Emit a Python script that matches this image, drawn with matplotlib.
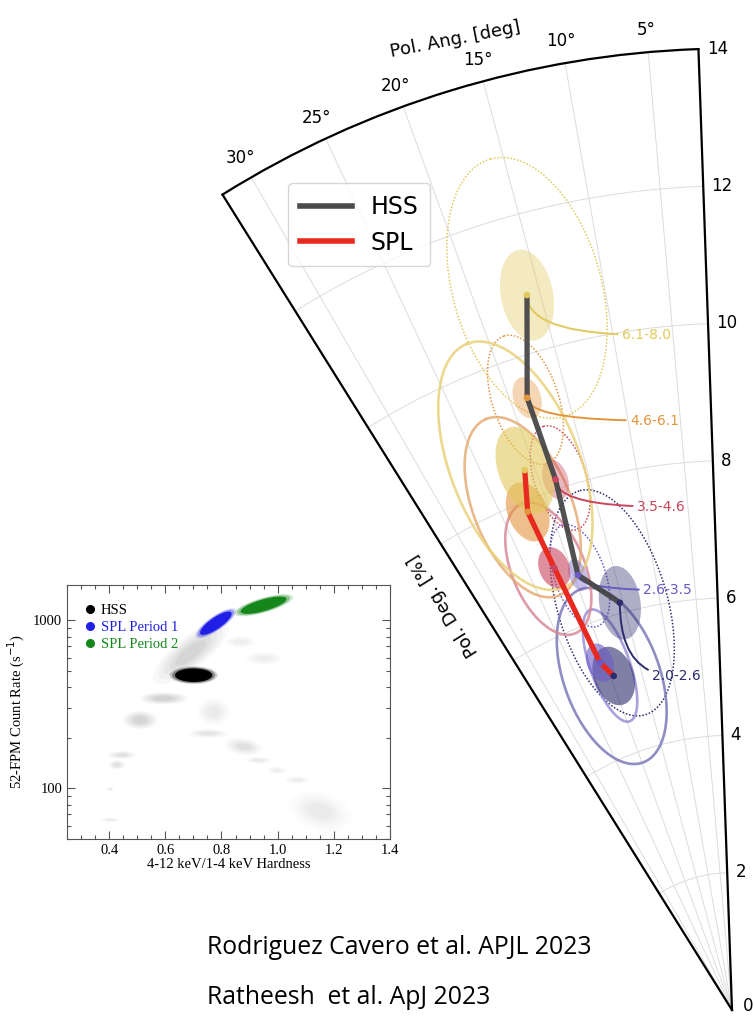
"""Polarization track (PD vs PA per energy bin) in the HSS and SPL states,
with the hardness-intensity diagram of the outburst as an inset."""
import numpy as np
import matplotlib
matplotlib.use("Agg")
from matplotlib import pyplot as plt
from matplotlib.lines import Line2D

W, H = 754, 1016

# energy bins [keV], low to high
bins = ["2.0-2.6", "2.6-3.5", "3.5-4.6", "4.6-6.1", "6.1-8.0"]
bin_colors = ["#2b2c6c", "#6b5ac6", "#c9455c", "#e3953e", "#e2c95c"]

# HSS: polarization angle [deg] and degree [%]
hss_pa = [15.4, 19.5, 18.4, 18.5, 16.0]
hss_pd = [6.15, 6.72, 8.14, 9.40, 10.83]
# 1-sigma ellipses: half axes along PD and across (in %), tilt [deg]
hss_sig_a = [0.54, 0.24, 0.30, 0.31, 0.67]
hss_sig_b = [0.30, 0.13, 0.18, 0.20, 0.38]
hss_sig_tilt = [-7, 0, 0, 0, -5]
# outer contours (dotted)
hss_cont_pa = [16.4, 19.3, 17.9, 18.7, 15.85]
hss_cont_pd = [6.18, 6.70, 8.14, 9.38, 10.93]
hss_cont_a = [1.70, 0.78, 0.79, 0.98, 1.95]
hss_cont_b = [0.80, 0.37, 0.38, 0.48, 1.08]

# SPL
spl_pa = [19.5, 20.8, 21.9, 22.3, 21.0]
spl_pd = [5.16, 5.41, 6.94, 7.84, 8.42]
spl_sig_a = [0.44, 0.29, 0.31, 0.45, 0.66]
spl_sig_b = [0.29, 0.19, 0.22, 0.29, 0.38]
spl_cont_pa = [19.8, 19.5, 22.6, 22.6, 21.7]
spl_cont_pd = [5.17, 5.32, 6.96, 7.93, 8.53]
spl_cont_a = [1.34, 0.86, 1.02, 1.39, 1.91]
spl_cont_b = [0.70, 0.29, 0.53, 0.71, 0.94]
spl_cont_colors = ["#7c79b8", "#9b90d6", "#d98a9a", "#e6ad78", "#e9d27a"]

# where the bin names sit (PA, PD)
label_pa = [13.47, 11.96, 10.7, 9.82, 9.26]
label_pd = [5.00, 6.25, 7.46, 8.71, 9.96]

# hardness-intensity diagram: cloud centre, half width (hardness),
# half height (dex), slope (dex per unit hardness)
hid_names = ["HSS", "SPL Period 1", "SPL Period 2"]
hid_colors = ["black", "#1f1fe6", "#14861a"]
hid_h = [0.701, 0.780, 0.950]
hid_rate = [471, 960, 1228]
hid_dh = [0.085, 0.072, 0.105]
hid_dlog = [0.052, 0.052, 0.046]
hid_slope = [0.0, 1.0, 0.45]

grey_h = [0.690, 0.594, 0.511, 0.772, 0.754, 0.879, 0.932, 0.997, 1.069,
          0.446, 0.428, 0.404, 0.404, 1.152, 0.950, 0.867]
grey_rate = [640, 343, 255, 285, 212, 177, 147, 128, 112,
             158, 138, 99, 65, 73, 592, 743]
grey_dh = [0.135, 0.085, 0.062, 0.060, 0.072, 0.066, 0.045, 0.034, 0.045,
           0.050, 0.030, 0.014, 0.035, 0.110, 0.066, 0.056]
grey_dlog = [0.115, 0.036, 0.055, 0.080, 0.028, 0.050, 0.020, 0.022, 0.022,
             0.024, 0.028, 0.012, 0.012, 0.115, 0.038, 0.034]
grey_slope = [1.1, 0, 0, 0, 0, -0.2, 0, 0, 0, 0, 0, 0, 0, -0.3, 0, 0]
grey_alpha = [0.75, 0.8, 0.75, 0.3, 0.4, 0.5, 0.3, 0.22, 0.22,
              0.45, 0.45, 0.3, 0.3, 0.28, 0.22, 0.22]


def ellipse_polar(pa, pd, a, b, tilt=0.0, n=240):
    """Ellipse drawn in the plane of the sky, returned as (theta [rad], r)."""
    t = np.linspace(0, 2 * np.pi, n)
    th = np.radians(pa)
    ur = np.array([-np.sin(th), np.cos(th)])
    ut = np.array([-np.cos(th), -np.sin(th)])
    psi = np.radians(tilt)
    u1 = np.cos(psi) * ur + np.sin(psi) * ut
    u2 = np.cos(psi) * ut - np.sin(psi) * ur
    x = pd * ur[0] + a * np.cos(t) * u1[0] + b * np.sin(t) * u2[0]
    y = pd * ur[1] + a * np.cos(t) * u1[1] + b * np.sin(t) * u2[1]
    return np.arctan2(-x, y), np.hypot(x, y)


def cloud(ax, h, rate, dh, dlog, slope, color, alpha, layers):
    t = np.linspace(0, 2 * np.pi, 120)
    for s, a in layers:
        x = h + s * dh * np.cos(t)
        ly = np.log10(rate) + s * dlog * np.sin(t) + slope * s * dh * np.cos(t)
        ax.fill(x, 10 ** ly, color=color, alpha=alpha * a, lw=0)


fig = plt.figure(figsize=(W / 100, H / 100), dpi=100)

# ---------------- polar wedge ----------------
S = 965
ax = fig.add_axes([0.0, 0.0, S / W, S / H], projection="polar")
ax.set_theta_zero_location("N")
ax.set_thetamin(2)
ax.set_thetamax(32)
ax.set_rlim(0, 14)
ax.set_rticks(np.arange(0, 15, 2))
ax.set_yticklabels([""] + [str(v) for v in range(2, 15, 2)])
ax.set_thetagrids([5, 10, 15, 20, 25, 30],
                  labels=[f"{v}°" for v in [5, 10, 15, 20, 25, 30]])
ax.tick_params(axis="both", labelsize=12, length=0)
ax.tick_params(axis="x", pad=9)
ax.tick_params(axis="y", pad=6)
ax.grid(color="#dcdcdc", lw=0.7)
for sp in ax.spines.values():
    sp.set_linewidth(1.6)
    sp.set_color("black")

# contours
for i in range(5):
    th, r = ellipse_polar(hss_cont_pa[i], hss_cont_pd[i], hss_cont_a[i], hss_cont_b[i])
    ax.plot(th, r, ls=(0, (1, 1.2)), color=bin_colors[i], lw=1.1, zorder=2)
    th, r = ellipse_polar(spl_cont_pa[i], spl_cont_pd[i], spl_cont_a[i], spl_cont_b[i])
    ax.plot(th, r, color=spl_cont_colors[i], lw=1.9, alpha=0.85, zorder=2)

# 1-sigma ellipses
for i in range(5):
    th, r = ellipse_polar(hss_pa[i], hss_pd[i], hss_sig_a[i], hss_sig_b[i], hss_sig_tilt[i])
    ax.fill(th, r, color=bin_colors[i], alpha=0.38, lw=0, zorder=3)
    th, r = ellipse_polar(spl_pa[i], spl_pd[i], spl_sig_a[i], spl_sig_b[i])
    ax.fill(th, r, color=bin_colors[i], alpha=0.6, lw=0, zorder=3)

ax.plot(np.radians(hss_pa), hss_pd, color="#474747", lw=3.8, alpha=0.95,
        solid_capstyle="butt", zorder=5)
ax.plot(np.radians(spl_pa), spl_pd, color="#e8291f", lw=3.8,
        solid_capstyle="butt", zorder=5)
ax.scatter(np.radians(hss_pa), hss_pd, s=14, c=bin_colors, zorder=6)
ax.scatter(np.radians(spl_pa), spl_pd, s=14, c=bin_colors, zorder=6)

# bin names with leader lines from the HSS points
for i in range(5):
    ax.annotate(bins[i], xy=(np.radians(hss_pa[i]), hss_pd[i]),
                xytext=(np.radians(label_pa[i]), label_pd[i]),
                ha="left", va="center", fontsize=10, color=bin_colors[i],
                arrowprops=dict(arrowstyle="-", color=bin_colors[i], lw=1.4,
                                connectionstyle="angle3,angleA=0,angleB=90",
                                shrinkA=1, shrinkB=0),
                zorder=4)

ax.legend(handles=[Line2D([], [], color="#4a4a4a", lw=4, label="HSS"),
                   Line2D([], [], color="#e8291f", lw=4, label="SPL")],
          loc="upper left", bbox_to_anchor=(288 / W, 1 - 183 / H),
          bbox_transform=fig.transFigure, fontsize=17, handlelength=2.2,
          borderaxespad=0, borderpad=0.5, labelspacing=0.5, edgecolor="#cccccc")

# put the wedge apex and the r = 14 corner where they sit in the figure
target = np.array([732.0, H - 1010.0])
for _ in range(3):
    fig.canvas.draw()
    o = ax.transData.transform((0, 0))
    p = ax.transData.transform((np.radians(2), 14))
    scale = 961.5 / np.hypot(*(p - o))
    pos = ax.get_position()
    fx = (o[0] - pos.x0 * W) / (pos.width * W)
    fy = (o[1] - pos.y0 * H) / (pos.height * H)
    nw, nh = pos.width * scale, pos.height * scale
    ax.set_position([(target[0] - fx * nw * W) / W,
                     (target[1] - fy * nh * H) / H, nw, nh])

# the r = 0 label sits at the very bottom edge
fig.text(743 / W, 1 - 1015 / H, "0", fontsize=12, ha="left", va="bottom")
fig.text(455 / W, 1 - 40 / H, "Pol. Ang. [deg]", fontsize=13,
         rotation=11, ha="center", va="center")
fig.text(443 / W, 1 - 605 / H, "Pol. Deg. [%]", fontsize=13,
         rotation=122, ha="center", va="center", rotation_mode="anchor")

# ---------------- hardness-intensity inset ----------------
serif = "Liberation Serif"
ins = fig.add_axes([67 / W, 1 - 839 / H, 323 / W, 254 / H])
ins.set_yscale("log")
grey_layers = [(1.0, 0.12), (0.85, 0.14), (0.7, 0.18), (0.55, 0.22), (0.4, 0.28)]
for i in range(len(grey_h)):
    cloud(ins, grey_h[i], grey_rate[i], grey_dh[i], grey_dlog[i], grey_slope[i],
          "#b4b4b4", grey_alpha[i], grey_layers)
col_layers = [(1.0, 0.18), (0.9, 0.35), (0.78, 1.0)]
for i in range(3):
    cloud(ins, hid_h[i], hid_rate[i], hid_dh[i], hid_dlog[i], hid_slope[i],
          hid_colors[i], 1.0, col_layers)
ins.set_xlim(0.25, 1.4)
ins.set_ylim(50, 1620)
ins.set_xticks([0.4, 0.6, 0.8, 1.0, 1.2, 1.4])
ins.set_xticks(np.arange(0.25, 1.41, 0.05), minor=True)
ins.set_yticks([100, 1000])
ins.set_yticklabels(["100", "1000"])
ins.tick_params(which="both", direction="in", top=True, right=True,
                labelsize=10.5, color="#555555", width=0.8)
ins.tick_params(which="major", length=6)
ins.tick_params(which="minor", length=3, labelleft=False)
for lab in ins.get_xticklabels() + ins.get_yticklabels():
    lab.set_fontfamily(serif)
for sp in ins.spines.values():
    sp.set_color("#555555")
    sp.set_linewidth(0.8)
ins.set_xlabel("4-12 keV/1-4 keV Hardness", fontsize=10.5, family=serif, labelpad=1)
ins.set_ylabel("52-FPM Count Rate (s$^{-1}$)", fontsize=10.5, family=serif, labelpad=4)
leg = ins.legend(handles=[Line2D([], [], ls="", marker="o", ms=5.5, color=c, label=n)
                          for n, c in zip(hid_names, hid_colors)],
                 loc="upper left", frameon=False, handlelength=0.6,
                 handletextpad=0.4, labelspacing=0.25, borderaxespad=0.9,
                 prop={"family": serif, "size": 10.5})
for txt, c in zip(leg.get_texts(), hid_colors):
    txt.set_color(c)

# ---------------- references ----------------
fig.text(207 / W, 1 - 948 / H, "Rodriguez Cavero et al. APJL 2023",
         fontsize=17.8, family="Open Sans", va="center")
fig.text(207 / W, 1 - 997 / H, "Ratheesh  et al. ApJ 2023",
         fontsize=17.8, family="Open Sans", va="center")

fig.savefig("out.png", dpi=100)
